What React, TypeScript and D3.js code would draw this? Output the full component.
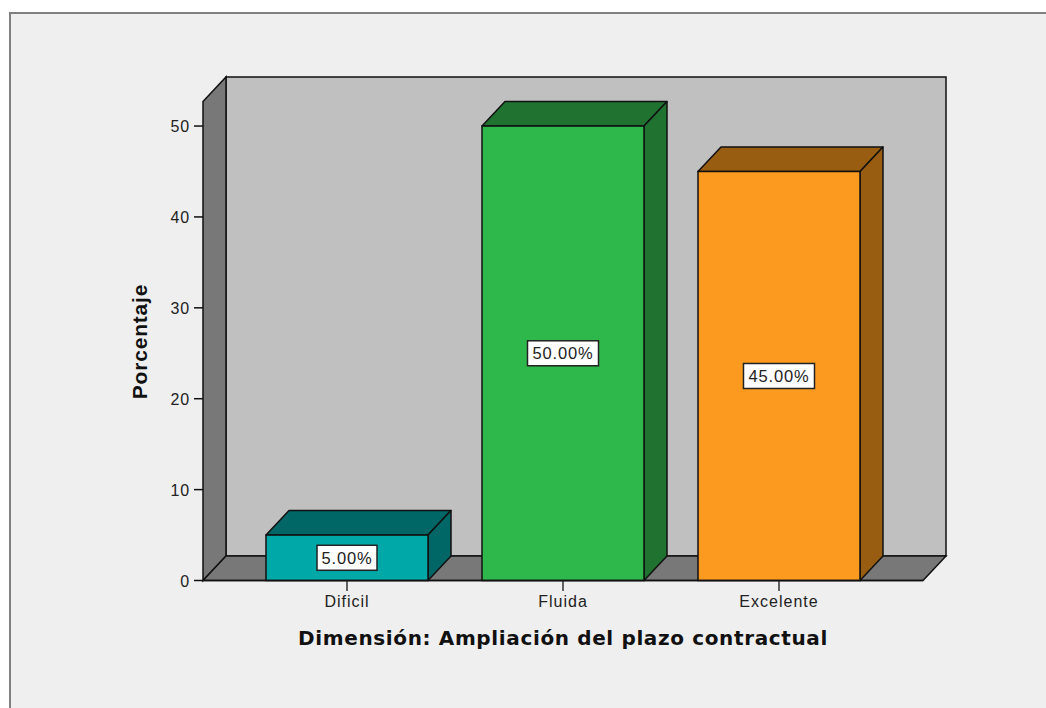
import React from "react";
import * as d3 from "d3";

const categories = ["Dificil", "Fluida", "Excelente"];
const percentages = [5, 50, 45];
const valueLabels = ["5.00%", "50.00%", "45.00%"];
const frontColors = ["#00a8a8", "#2eb84b", "#fb9a1f"];
const sideColors = ["#006666", "#1f722f", "#985d10"];
const yTicks = [0, 10, 20, 30, 40, 50];

const W = 1046, H = 708;
const left = 203, right = 923, bottom = 580.5, top = 101.5;
const dx = 23, dy = -24.5;
const y = d3.scaleLinear().domain([0, 52.7]).range([bottom, top]);
const x = d3.scaleBand<string>().domain(categories).range([left, right]).paddingInner(0.25).paddingOuter(0.2917);
const poly = (pts: [number, number][]) => d3.line()(pts)! + "Z";
const line = "#111";
const font = "'Liberation Sans', Arial, sans-serif";

export default function App() {
  return (
    <svg width={W} height={H} style={{ position: "fixed", left: 0, top: 0, background: "#fff" }}>
      <rect x={10} y={13} width={W} height={H} fill="#efefef" stroke="#808080" strokeWidth={2} />
      {/* walls */}
      <path d={poly([[left + dx, top + dy], [right + dx, top + dy], [right + dx, bottom + dy], [left + dx, bottom + dy]])} fill="#c0c0c0" stroke={line} strokeWidth={1.5} />
      <path d={poly([[left, top], [left + dx, top + dy], [left + dx, bottom + dy], [left, bottom]])} fill="#787878" stroke={line} strokeWidth={1.5} />
      <path d={poly([[left, bottom], [left + dx, bottom + dy], [right + dx, bottom + dy], [right, bottom]])} fill="#787878" stroke={line} strokeWidth={1.5} />
      {/* y axis */}
      {yTicks.map((t) => (
        <g key={t}>
          <line x1={194} x2={left} y1={y(t)} y2={y(t)} stroke={line} strokeWidth={1.5} />
          <text x={190} y={y(t) + 6} textAnchor="end" fontFamily={font} fontSize={16} letterSpacing={0.8} fill="#222">{t}</text>
        </g>
      ))}
      {/* bars */}
      {categories.map((c, i) => {
        const x0 = x(c)!, x1 = x0 + x.bandwidth(), yt = y(percentages[i]);
        const mid = (x0 + x1) / 2;
        const bw = valueLabels[i].length > 5 ? 71 : 60;
        const ym = (yt + bottom) / 2;
        return (
          <g key={c}>
            <path d={poly([[x0, yt], [x0 + dx, yt + dy], [x1 + dx, yt + dy], [x1, yt]])} fill={sideColors[i]} stroke={line} strokeWidth={1.5} strokeLinejoin="round" />
            <path d={poly([[x1, yt], [x1 + dx, yt + dy], [x1 + dx, bottom + dy], [x1, bottom]])} fill={sideColors[i]} stroke={line} strokeWidth={1.5} strokeLinejoin="round" />
            <rect x={x0} y={yt} width={x.bandwidth()} height={bottom - yt} fill={frontColors[i]} stroke={line} strokeWidth={1.5} />
            <rect x={mid - bw / 2} y={ym - 12.5} width={bw} height={25} fill="#fff" stroke="#222" strokeWidth={1.5} />
            <text x={mid} y={ym + 6} textAnchor="middle" fontFamily={font} fontSize={16.5} letterSpacing={0.8} fill="#222">{valueLabels[i]}</text>
            <line x1={mid} x2={mid} y1={bottom} y2={591} stroke="#333" strokeWidth={1.5} />
            <text x={mid} y={607} textAnchor="middle" fontFamily={font} fontSize={16} letterSpacing={1} fill="#222">{c}</text>
          </g>
        );
      })}
      <line x1={left} x2={right} y1={bottom} y2={bottom} stroke={line} strokeWidth={1.5} />
      <text x={563} y={645} textAnchor="middle" fontFamily="'DejaVu Sans', sans-serif" fontWeight="bold" fontSize={20} letterSpacing={0.63} fill="#111">Dimensión: Ampliación del plazo contractual</text>
      <text transform="translate(147,341.5) rotate(-90)" textAnchor="middle" fontFamily={font} fontWeight="bold" fontSize={21} letterSpacing={0.8} fill="#111">Porcentaje</text>
    </svg>
  );
}
